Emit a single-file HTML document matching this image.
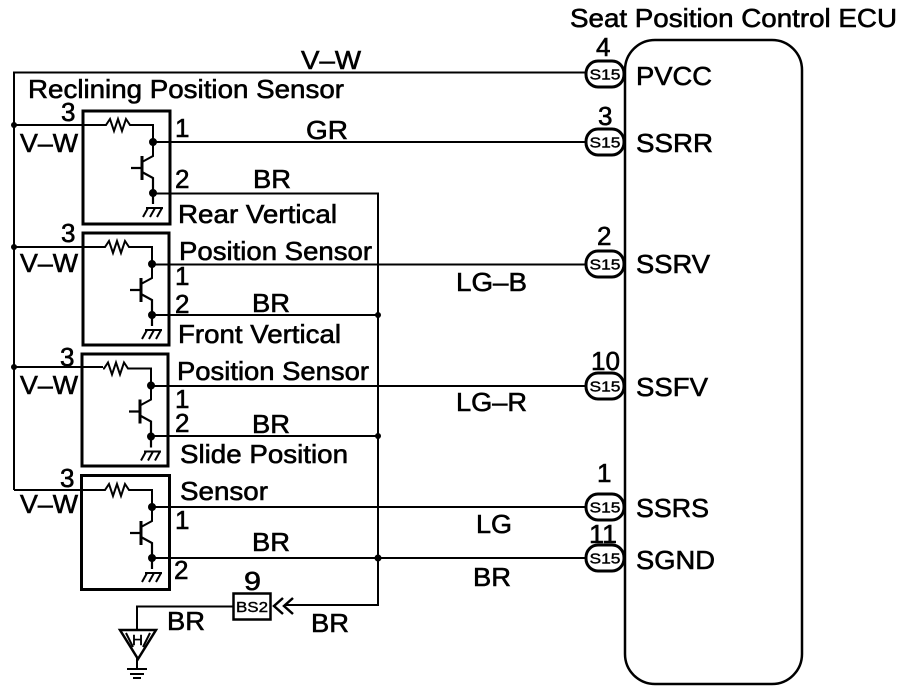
<!DOCTYPE html>
<html><head><meta charset="utf-8"><style>
html,body{margin:0;padding:0;background:#fff}
svg{display:block}
text{font-family:"Liberation Sans",sans-serif;font-size:26px;fill:#000;stroke:#000;stroke-width:.6px}
.s{font-size:15px;stroke-width:.4px}
</style></head><body>
<svg width="912" height="692" viewBox="0 0 912 692" xmlns="http://www.w3.org/2000/svg">
<defs>
<g id="sym" fill="none" stroke="#000" stroke-width="2">
<path d="M105 125H106L110 119L114 131L118 119L122 131L126 119L130 125L133 125H153V156L142 162"/>
<path d="M142 156V180" stroke-width="3"/>
<path d="M131 168H142M142 172L153 178V204" stroke-width="2.200"/>
<path d="M146 208H163M143 217L148 208M150 217L155 208M157 217L162 208"/>
<circle cx="153" cy="142" r="3" fill="#000"/>
<circle cx="153" cy="193" r="3" fill="#000"/>
</g>
<g id="con">
<rect x="586" y="-13" width="38" height="26" rx="12" ry="12.500" fill="#fff" stroke="#000" stroke-width="3"/>
<text class="s" x="605" y="5.500" text-anchor="middle" textLength="31" lengthAdjust="spacingAndGlyphs">S15</text>
</g>
</defs>

<rect x="625" y="40" width="177" height="644" rx="30" ry="30" fill="#fff" stroke="#000" stroke-width="2.500"/>

<g fill="none" stroke="#000" stroke-width="2">
<path d="M14 490V72.500H586"/>
<path d="M14 125H105M14 247H104M14 367H103M14 490H104"/>
<path d="M153 142H586M152 264.500H586M151 386H586M152 507H586M152 558H586"/>
<path d="M153 193.500H378V605H285"/>
<path d="M152 315H378M151 436H378"/>
<path d="M233 606.500H137V630"/>
<path d="M137 658V668M127 669H147M130 674H144M133 678H141" stroke-width="2"/>
<path d="M120 630H156L138 659Z" stroke-width="2.500"/>
<path d="M126 633L133 647M150 633L143 647"/>
</g>
<g fill="none" stroke="#000" stroke-width="3">
<rect x="83" y="111" width="87" height="113"/>
<rect x="83" y="233" width="86" height="112"/>
<rect x="82" y="354" width="86" height="112"/>
<rect x="81.500" y="475.500" width="88" height="114"/>
<rect x="233.500" y="593.500" width="37" height="26" stroke-width="2.500"/>
<path d="M283 598L274 606L283 614M293 598L284 606L293 614" stroke-width="2.500"/>
</g>
<circle cx="14" cy="125" r="3"/><circle cx="14" cy="247" r="3"/><circle cx="14" cy="367" r="3"/>
<circle cx="378" cy="315" r="3"/><circle cx="378" cy="436" r="3"/><circle cx="378" cy="558" r="3.500"/>

<use href="#sym"/>
<use href="#sym" transform="translate(-1 122)"/>
<use href="#sym" transform="translate(-2 243.500)"/>
<use href="#sym" transform="translate(-1 365)"/>

<use href="#con" transform="translate(0 74)"/>
<use href="#con" transform="translate(0 142)"/>
<use href="#con" transform="translate(0 264)"/>
<use href="#con" transform="translate(0 386)"/>
<use href="#con" transform="translate(0 507)"/>
<use href="#con" transform="translate(0 558)"/>

<text x="570" y="27" textLength="327" lengthAdjust="spacingAndGlyphs">Seat Position Control ECU</text>
<text x="28" y="98" textLength="316" lengthAdjust="spacingAndGlyphs">Reclining Position Sensor</text>
<text x="301" y="69" textLength="60" lengthAdjust="spacingAndGlyphs">V–W</text>
<text x="306" y="139" textLength="42" lengthAdjust="spacingAndGlyphs">GR</text>
<text x="178" y="223" textLength="159" lengthAdjust="spacingAndGlyphs">Rear Vertical</text>
<text x="179" y="260" textLength="193" lengthAdjust="spacingAndGlyphs">Position Sensor</text>
<text x="178" y="343" textLength="163" lengthAdjust="spacingAndGlyphs">Front Vertical</text>
<text x="177" y="380" textLength="192" lengthAdjust="spacingAndGlyphs">Position Sensor</text>
<text x="180" y="463" textLength="168" lengthAdjust="spacingAndGlyphs">Slide Position</text>
<text x="180" y="500" textLength="88" lengthAdjust="spacingAndGlyphs">Sensor</text>

<text x="20" y="152" textLength="58" lengthAdjust="spacingAndGlyphs">V–W</text>
<text x="20" y="272" textLength="58" lengthAdjust="spacingAndGlyphs">V–W</text>
<text x="20" y="394" textLength="58" lengthAdjust="spacingAndGlyphs">V–W</text>
<text x="20" y="513" textLength="58" lengthAdjust="spacingAndGlyphs">V–W</text>
<text x="61" y="121">3</text><text x="61" y="242">3</text><text x="60" y="366">3</text><text x="60" y="487">3</text>

<text x="175" y="137">1</text><text x="175" y="188">2</text>
<text x="175" y="285">1</text><text x="175" y="313">2</text>
<text x="175" y="408">1</text><text x="175" y="432">2</text>
<text x="175" y="529">1</text><text x="174" y="579">2</text>

<text x="253" y="188" textLength="38" lengthAdjust="spacingAndGlyphs">BR</text>
<text x="252" y="312" textLength="38" lengthAdjust="spacingAndGlyphs">BR</text>
<text x="252" y="433" textLength="38" lengthAdjust="spacingAndGlyphs">BR</text>
<text x="252" y="551" textLength="38" lengthAdjust="spacingAndGlyphs">BR</text>
<text x="473" y="586" textLength="38" lengthAdjust="spacingAndGlyphs">BR</text>
<text x="167" y="630" textLength="38" lengthAdjust="spacingAndGlyphs">BR</text>
<text x="311" y="632" textLength="38" lengthAdjust="spacingAndGlyphs">BR</text>
<text x="456" y="291" textLength="71" lengthAdjust="spacingAndGlyphs">LG–B</text>
<text x="456" y="411" textLength="71" lengthAdjust="spacingAndGlyphs">LG–R</text>
<text x="476" y="533" textLength="36" lengthAdjust="spacingAndGlyphs">LG</text>

<text x="596" y="56">4</text><text x="598" y="125">3</text><text x="597" y="245">2</text>
<text x="591" y="370" textLength="29" lengthAdjust="spacingAndGlyphs">10</text>
<text x="597" y="482">1</text>
<text x="589" y="543" textLength="28" lengthAdjust="spacingAndGlyphs">11</text>

<text x="636" y="85" textLength="76" lengthAdjust="spacingAndGlyphs">PVCC</text>
<text x="636" y="152" textLength="77" lengthAdjust="spacingAndGlyphs">SSRR</text>
<text x="636" y="273" textLength="74" lengthAdjust="spacingAndGlyphs">SSRV</text>
<text x="636" y="396" textLength="72" lengthAdjust="spacingAndGlyphs">SSFV</text>
<text x="636" y="517" textLength="73" lengthAdjust="spacingAndGlyphs">SSRS</text>
<text x="636" y="569" textLength="79" lengthAdjust="spacingAndGlyphs">SGND</text>

<text class="s" x="236" y="612" textLength="32" lengthAdjust="spacingAndGlyphs">BS2</text>
<text x="244" y="590" textLength="17" lengthAdjust="spacingAndGlyphs">9</text>
<text class="s" x="132" y="645" textLength="11" lengthAdjust="spacingAndGlyphs">H</text>
</svg>
</body></html>
